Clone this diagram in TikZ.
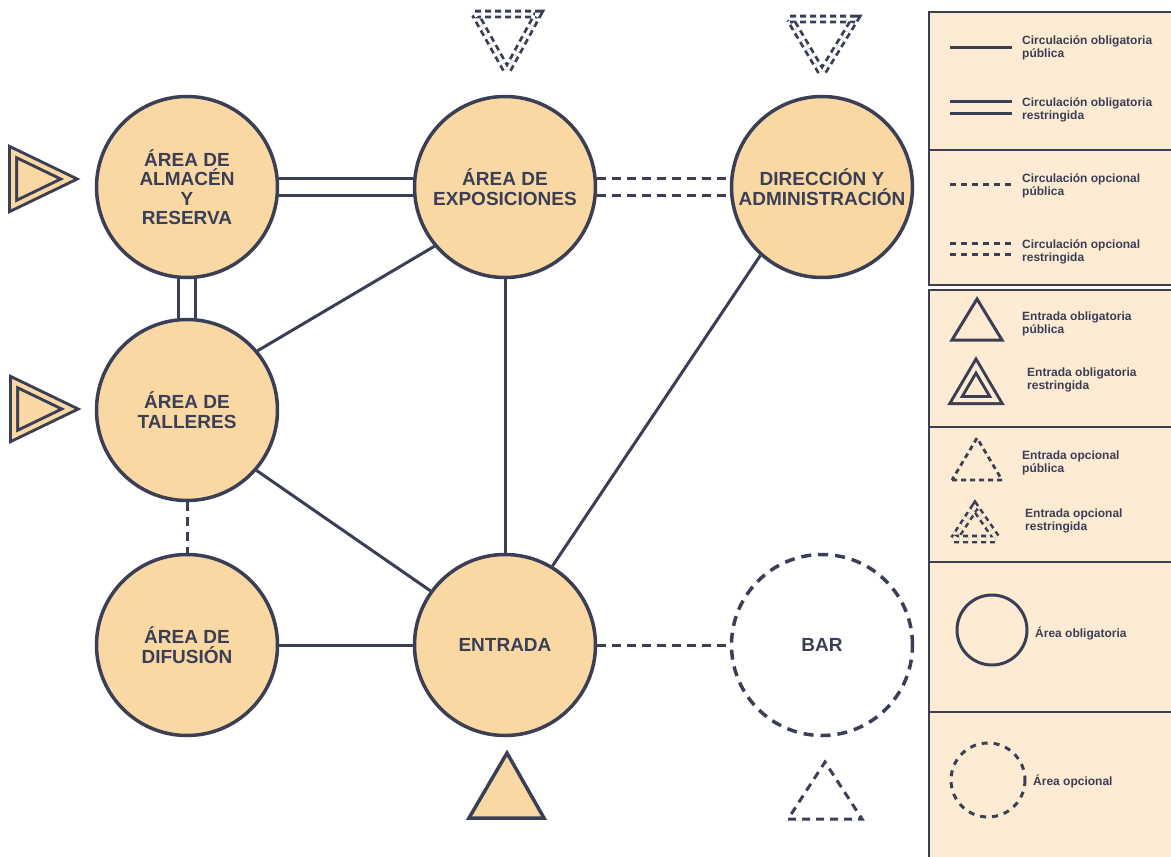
\documentclass[tikz,border=0pt]{standalone}
\usepackage{fontspec}
\setmainfont{Liberation Sans}
\usetikzlibrary{backgrounds}

\definecolor{trazo}{HTML}{3B3F56}
\definecolor{relleno}{HTML}{FAD8A4}
\definecolor{crema}{HTML}{FDEBD3}

\tikzset{
  area/.style={circle, draw=trazo, line width=3.5pt, fill=relleno, minimum size=181pt,
    inner sep=0pt, align=center, text=trazo, font=\fontsize{19}{19.5}\selectfont\bfseries},
  areaopc/.style={area, fill=none, dash pattern=on 10pt off 7pt},
  % tipos de circulacion
  obligpub/.style={draw=trazo, line width=3pt},
  obligres/.style={obligpub, double=white, double distance=14pt},
  opcpub/.style={obligpub, dash pattern=on 9pt off 6pt},
  opcres/.style={opcpub, double=white, double distance=14pt},
  % leyenda
  marco/.style={draw=trazo, line width=2.5pt, fill=crema},
  leyenda/.style={anchor=west, align=left, text=trazo, inner sep=0pt,
    font=\fontsize{12}{13}\selectfont\bfseries},
}

\begin{document}
\begin{tikzpicture}[x=1pt, y=-1pt]

    \useasboundingbox (0,0) rectangle (1171,857);

    % areas
    \node[area] (almacen) at (187,187) {ÁREA DE\\ALMACÉN\\Y\\RESERVA};
    \node[area] (expo) at (505,187) {ÁREA DE\\EXPOSICIONES};
    \node[area] (direccion) at (822,187) {DIRECCIÓN Y\\ADMINISTRACIÓN};
    \node[area] (talleres) at (187,410) {ÁREA DE\\TALLERES};
    \node[area] (difusion) at (187,645) {ÁREA DE\\DIFUSIÓN};
    \node[area] (entrada) at (505,645) {ENTRADA};
    \node[areaopc] (bar) at (822,645) {BAR};

    % circulaciones
    \begin{scope}[on background layer]
        \draw[obligres] (almacen) -- (expo);
        \draw[obligres] (almacen) -- (talleres);
        \draw[opcres] (expo) -- (direccion);
        \draw[obligpub] (talleres.40) -- (expo.220);
        \draw[obligpub] (expo) -- (entrada);
        \draw[obligpub] (direccion.228) -- (entrada.59);
        \draw[obligpub] (talleres.-41) -- (entrada.144);
        \draw[opcpub] (talleres) -- (difusion);
        \draw[obligpub] (difusion) -- (entrada);
        \draw[opcpub] (entrada) -- (bar);
    \end{scope}

    % entradas
    \draw[trazo, line width=3pt, double=relleno, double distance=4pt, fill=relleno]
        (13,152) -- (13,206) -- (69,179) -- cycle;
    \draw[trazo, line width=3pt, double=relleno, double distance=4pt, fill=relleno]
        (14,382) -- (14,436) -- (70,409) -- cycle;
    \draw[trazo, line width=2.8pt, double=white, double distance=3pt, dash pattern=on 6pt off 4pt]
        (475,14) -- (538,14) -- (507,71) -- cycle;
    \draw[trazo, line width=2.8pt, double=white, double distance=3pt, dash pattern=on 6pt off 4pt]
        (790,19) -- (855,19) -- (822,73) -- cycle;
    \draw[trazo, line width=3.5pt, fill=relleno]
        (469,818) -- (544,818) -- (507,753) -- cycle;
    \draw[trazo, line width=3pt, dash pattern=on 8pt off 6pt]
        (788,819) -- (862,819) -- (825,762) -- cycle;

    % leyenda: circulaciones
    \draw[marco] (929,12) rectangle (1173,285);
    \draw[trazo, line width=2.5pt] (929,150) -- (1173,150);
    \draw[trazo, line width=3pt] (950,47) -- (1012,47);
    \node[leyenda] (l1) at (1022,48) {Circulación obligatoria\\pública};
    \draw[trazo, line width=3pt, double=crema, double distance=9pt] (950,107) -- (1012,107);
    \node[leyenda] (l2) at (1022,110) {Circulación obligatoria\\restringida};
    \draw[trazo, line width=3pt, dash pattern=on 6pt off 5pt] (950,184) -- (1012,184);
    \node[leyenda] (l3) at (1022,186) {Circulación opcional\\pública};
    \draw[trazo, line width=3pt, double=crema, double distance=8pt, dash pattern=on 6pt off 5pt]
        (950,248.5) -- (1012,248.5);
    \node[leyenda] (l4) at (1022,252) {Circulación opcional\\restringida};

    % leyenda: entradas
    \draw[marco] (929,290) rectangle (1173,562);
    \draw[trazo, line width=2.5pt] (929,427) -- (1173,427);
    \draw[trazo, line width=3pt] (952,340) -- (1002,340) -- (977,299) -- cycle;
    \node[leyenda] (l5) at (1022,324) {Entrada obligatoria\\pública};
    \draw[trazo, line width=3pt, double=crema, double distance=4pt]
        (956,400) -- (996,400) -- (976,366) -- cycle;
    \node[leyenda] (l6) at (1027,380) {Entrada obligatoria\\restringida};
    \draw[trazo, line width=2.8pt, dash pattern=on 5pt off 4pt]
        (952,480) -- (1002,480) -- (977,438) -- cycle;
    \node[leyenda] (l7) at (1022,463) {Entrada opcional\\pública};
    \draw[trazo, line width=2.6pt, double=crema, double distance=3.5pt, dash pattern=on 5pt off 4pt]
        (954,539) -- (997,539) -- (975,507) -- cycle;
    \node[leyenda] (l8) at (1025,521) {Entrada opcional\\restringida};

    % leyenda: areas
    \draw[marco] (929,562) rectangle (1173,860);
    \draw[trazo, line width=2.5pt] (929,712) -- (1173,712);
    \draw[trazo, line width=3pt] (992,630) circle (35);
    \node[leyenda] (l9) at (1035,633) {Área obligatoria};
    \draw[trazo, line width=3pt, dash pattern=on 6pt off 6pt] (988,780) circle (37);
    \node[leyenda] (l10) at (1033,781) {Área opcional};

\end{tikzpicture}
\end{document}
